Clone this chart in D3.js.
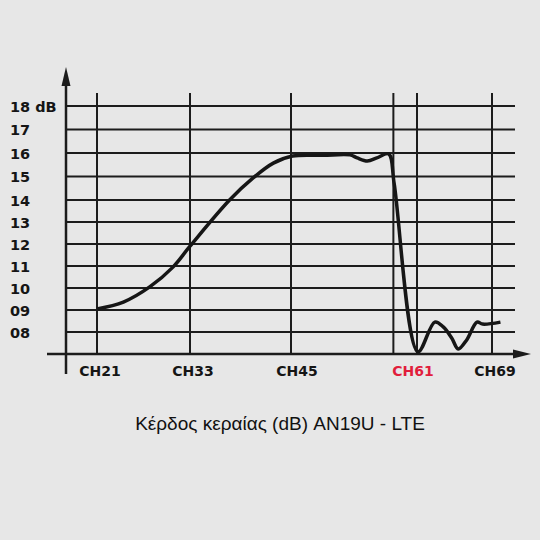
<!DOCTYPE html>
<html>
<head>
<meta charset="utf-8">
<script src="https://cdn.jsdelivr.net/npm/d3@7"></script>
<style>
  html, body { margin: 0; padding: 0; background: #e7e7e7; }
</style>
</head>
<body>
<div id="chart"></div>
<script>
// donnees
var channels = [21, 24.4, 27.8, 30.8, 33, 37.7, 40.5, 42.9, 45.2, 49.1, 52.5, 53.4, 54.7, 55.9, 57.4, 58.1, 61.1, 62.9, 63.8, 64.7, 65.4, 66.3, 67.4, 68.0, 69.9];
var gains = [9.05, 9.36, 10.05, 10.95, 11.9, 14.0, 14.94, 15.57, 15.87, 15.9, 15.92, 15.79, 15.66, 15.79, 15.96, 14.7, 7.1, 8.45, 8.23, 7.73, 7.23, 7.64, 8.45, 8.36, 8.45];
var yTicks = [8, 9, 10, 11, 12, 13, 14, 15, 16, 17, 18];
var yTickLabels = ["08", "09", "10", "11", "12", "13", "14", "15", "16", "17", "18 dB"];
var xGrid = [21, 33, 45, 58, 61, 69];
var xTicks = [21, 33, 45, 61, 69];
var xTickLabels = ["CH21", "CH33", "CH45", "CH61", "CH69"];
var title = "Κέρδος κεραίας (dB) AN19U - LTE";

var width = 540, height = 540;

var svg = d3.select("#chart").append("svg")
    .attr("width", width)
    .attr("height", height);

svg.append("rect").attr("width", width).attr("height", height).attr("fill", "#e7e7e7");

// echelles (non uniformes comme sur l'original)
var x = d3.scaleLinear().domain([21, 33, 45, 61, 69]).range([97, 190, 291, 417, 492]);
var y = d3.scaleLinear().domain([7, 14, 18]).range([354, 200, 106]);

var axisX = 66, axisY = y(7);
var ink = "#1c1c1c";

// grille horizontale
svg.selectAll(".hgrid")
    .data(yTicks)
    .enter()
    .append("line")
    .attr("x1", axisX).attr("x2", 515)
    .attr("y1", d => y(d)).attr("y2", d => y(d))
    .attr("stroke", ink).attr("stroke-width", 2);

// grille verticale
svg.selectAll(".vgrid")
    .data(xGrid)
    .enter()
    .append("line")
    .attr("x1", d => x(d)).attr("x2", d => x(d))
    .attr("y1", 93).attr("y2", axisY)
    .attr("stroke", ink).attr("stroke-width", 2);

// axes avec fleches
svg.append("line").attr("x1", axisX).attr("x2", axisX).attr("y1", 84).attr("y2", 374)
    .attr("stroke", ink).attr("stroke-width", 2.5);
svg.append("path").attr("d", `M${axisX},67 L${axisX - 4.5},86 L${axisX + 4.5},86 Z`).attr("fill", ink);
svg.append("line").attr("x1", 47).attr("x2", 516).attr("y1", axisY).attr("y2", axisY)
    .attr("stroke", ink).attr("stroke-width", 2.5);
svg.append("path").attr("d", `M531,${axisY} L513,${axisY - 4.5} L513,${axisY + 4.5} Z`).attr("fill", ink);

// etiquettes Y
svg.selectAll(".ylab")
    .data(yTicks)
    .enter()
    .append("text")
    .attr("x", 10)
    .attr("y", d => y(d) + 5.5)
    .text((d, i) => yTickLabels[i])
    .attr("font-family", "DejaVu Sans")
    .attr("font-weight", "bold")
    .attr("font-size", 14.5)
    .attr("fill", "#151515");

// etiquettes X
svg.selectAll(".xlab")
    .data(xTicks)
    .enter()
    .append("text")
    .attr("x", (d, i) => x(d) + [3, 3, 6, -4, 3][i])
    .attr("y", 376)
    .attr("text-anchor", "middle")
    .text((d, i) => xTickLabels[i])
    .attr("font-family", "DejaVu Sans")
    .attr("font-weight", "bold")
    .attr("font-size", 14)
    .attr("fill", d => d === 61 ? "#e11d3c" : "#151515");

// courbe
var line = d3.line()
    .x(d => x(d[0]))
    .y(d => y(d[1]))
    .curve(d3.curveCatmullRom.alpha(0.5));

svg.append("path")
    .datum(channels.map((c, i) => [c, gains[i]]))
    .attr("d", line)
    .attr("fill", "none")
    .attr("stroke", "#161616")
    .attr("stroke-width", 3.5)
    .attr("stroke-linejoin", "round");

// titre
svg.append("text")
    .attr("x", 280)
    .attr("y", 430)
    .attr("text-anchor", "middle")
    .text(title)
    .attr("font-family", "Liberation Sans")
    .attr("font-size", 19)
    .attr("fill", "#111");
</script>
</body>
</html>
